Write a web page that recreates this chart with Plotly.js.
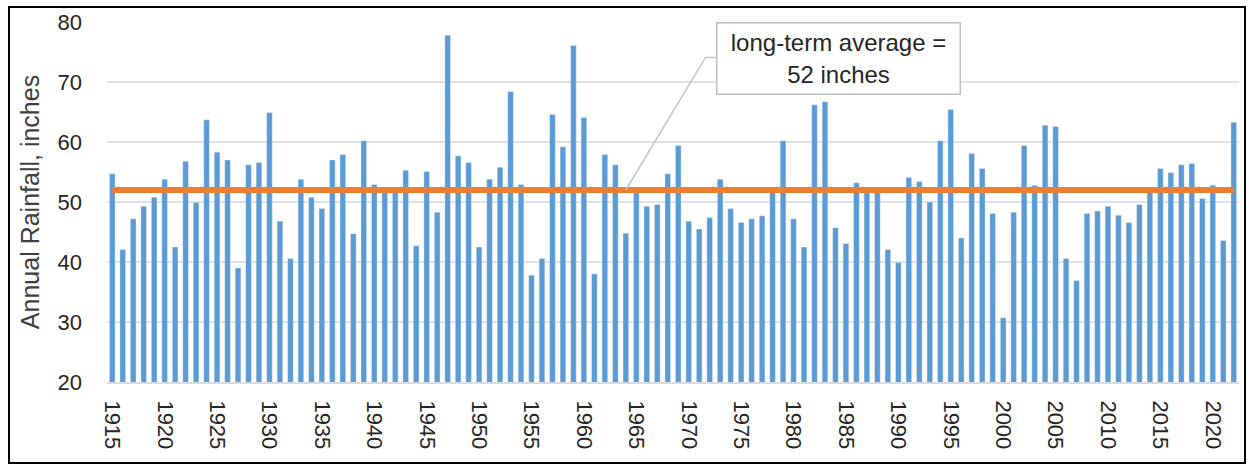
<!DOCTYPE html>
<html>
<head>
<meta charset="utf-8">
<script src="https://cdn.plot.ly/plotly-3.0.1.min.js"></script>
<style>
  html, body { margin: 0; padding: 0; background: #ffffff; }
  #frame { position: absolute; left: 8px; top: 6px; width: 1234px; height: 454px; border: 2px solid #000; }
  #chart { width: 1234px; height: 454px; }
</style>
</head>
<body>
<div id="frame"><div id="chart"></div></div>
<script>
const years = [1915,1916,1917,1918,1919,1920,1921,1922,1923,1924,1925,1926,1927,1928,1929,1930,
  1931,1932,1933,1934,1935,1936,1937,1938,1939,1940,1941,1942,1943,1944,1945,1946,1947,1948,1949,1950,
  1951,1952,1953,1954,1955,1956,1957,1958,1959,1960,1961,1962,1963,1964,1965,1966,1967,1968,1969,1970,
  1971,1972,1973,1974,1975,1976,1977,1978,1979,1980,1981,1982,1983,1984,1985,1986,1987,1988,1989,1990,
  1991,1992,1993,1994,1995,1996,1997,1998,1999,2000,2001,2002,2003,2004,2005,2006,2007,2008,2009,2010,
  2011,2012,2013,2014,2015,2016,2017,2018,2019,2020,2021,2022];

const rainfall = [54.7,42.1,47.2,49.3,50.8,53.8,42.5,56.8,49.9,63.7,58.3,57.0,39.0,56.2,56.6,64.9,
  46.8,40.6,53.8,50.8,48.9,57.0,57.9,44.7,60.2,52.9,52.0,51.8,55.3,42.7,55.1,48.3,77.8,57.7,56.6,42.5,
  53.8,55.8,68.4,52.9,37.8,40.6,64.6,59.2,76.1,64.1,38.0,57.9,56.2,44.8,51.8,49.3,49.6,54.7,59.4,46.8,
  45.5,47.4,53.8,48.9,46.6,47.2,47.7,51.7,60.2,47.2,42.5,66.2,66.7,45.7,43.1,53.2,51.9,51.6,42.1,39.9,
  54.1,53.4,50.0,60.2,65.4,44.0,58.1,55.6,48.1,30.7,48.3,59.4,52.8,62.8,62.6,40.6,36.9,48.1,48.5,49.3,
  47.8,46.6,49.6,51.8,55.6,54.9,56.2,56.4,50.6,52.8,43.6,63.3];

const longTermAverage = 52;
const xTickVals = [1915,1920,1925,1930,1935,1940,1945,1950,1955,1960,1965,1970,1975,1980,1985,1990,1995,2000,2005,2010,2015,2020];
const yTickVals = [20,30,40,50,60,70,80];
const yAxisTitle = "Annual Rainfall, inches";
const noteText = "long-term average =<br>52 inches";

const bars = {
  type: 'bar',
  x: years,
  y: rainfall,
  marker: { color: '#5b9bd5', line: { color: 'rgba(255,255,255,0.55)', width: 0.6 } },
  hoverinfo: 'x+y',
  showlegend: false
};

const avgLine = {
  type: 'scatter',
  mode: 'lines',
  x: [years[0], years[years.length - 1]],
  y: [longTermAverage, longTermAverage],
  line: { color: '#ed7d31', width: 6 },
  hoverinfo: 'skip',
  showlegend: false
};

const layout = {
  width: 1234,
  height: 454,
  margin: { l: 97, r: 5, t: 14, b: 80 },
  paper_bgcolor: '#ffffff',
  plot_bgcolor: '#ffffff',
  bargap: 0.46,
  font: { family: 'Liberation Sans, Arial, sans-serif', color: '#404040' },
  xaxis: {
    type: 'linear',
    range: [1914.5, 2022.5],
    tickmode: 'array',
    tickvals: xTickVals,
    ticktext: xTickVals.map(String),
    tickangle: 90,
    tickfont: { size: 22, color: '#262626' },
    ticks: '',
    ticklabelstandoff: 12,
    showgrid: false,
    zeroline: false,
    showline: true,
    linecolor: '#d9dde3',
    linewidth: 2,
    fixedrange: true
  },
  yaxis: {
    range: [20, 80],
    tickmode: 'array',
    tickvals: yTickVals,
    tickfont: { size: 22, color: '#262626' },
    ticks: '',
    ticklabelstandoff: 24,
    showgrid: true,
    gridcolor: '#dde1e8',
    gridwidth: 2,
    zeroline: false,
    showline: false,
    title: { text: yAxisTitle, font: { size: 25, color: '#404040' }, standoff: 10 },
    automargin: false,
    fixedrange: true
  },
  shapes: [
    {
      type: 'path',
      xref: 'x', yref: 'y',
      path: 'M 1964,52 L 1971.6,74.1 L 1972.6,74.1',
      line: { color: '#bfc6cf', width: 1.5 },
      layer: 'above'
    }
  ],
  annotations: [
    {
      xref: 'x', yref: 'y',
      x: 1984.25, y: 73.9,
      xanchor: 'center', yanchor: 'middle',
      text: noteText,
      showarrow: false,
      align: 'center',
      font: { family: 'Liberation Sans, Arial, sans-serif', size: 24, color: '#262626' },
      bgcolor: '#ffffff',
      bordercolor: '#bfbfbf',
      borderwidth: 1.5,
      borderpad: 3,
      width: 236,
      height: 64
    }
  ]
};

Plotly.newPlot('chart', [bars, avgLine], layout, { displayModeBar: false, staticPlot: true });
</script>
</body>
</html>
